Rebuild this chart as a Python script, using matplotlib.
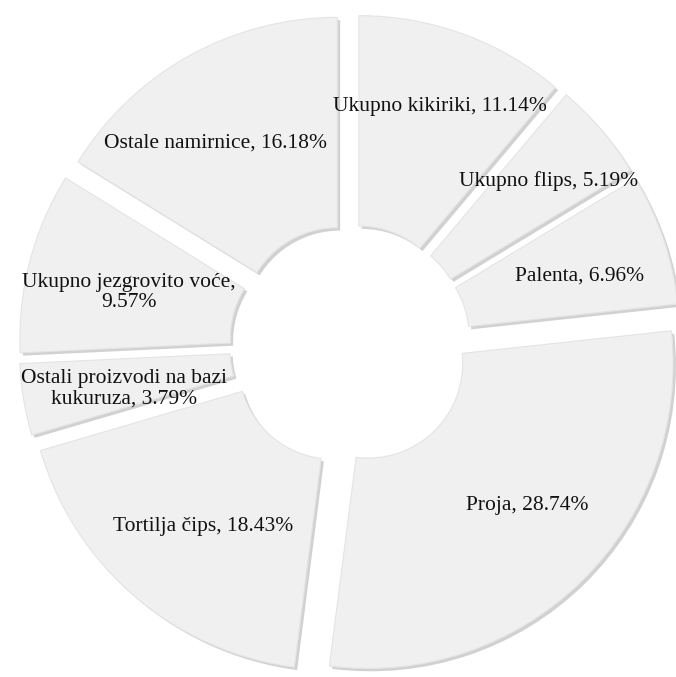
import numpy as np
import matplotlib
matplotlib.use('Agg')
import matplotlib.pyplot as plt
import matplotlib.patheffects as pe

labels = ['Ukupno kikiriki', 'Ukupno flips', 'Palenta', 'Proja', 'Tortilja čips',
          'Ostali proizvodi na bazi\nkukuruza', 'Ukupno jezgrovito voće,\n', 'Ostale namirnice']
values = [11.14, 5.19, 6.96, 28.74, 18.43, 3.79, 9.57, 16.18]

# label placement (distance from wedge centre, angle nudge in degrees)
lab_dist = [0.75, 0.76, 0.70, 0.70, 0.68, 0.67, 0.66, 0.71]
lab_turn = [-0.8, -1.1, -2.2, 3.9, 1.6, 1.5, 1.4, 5.1]

plt.rcParams['font.family'] = ['Liberation Serif', 'DejaVu Serif']

fig = plt.figure(figsize=(6.76, 6.77), dpi=100)
ax = fig.add_axes([0, 0, 1, 1])

expl = 0.085
wedges, _ = ax.pie(values, startangle=90, counterclock=False,
                   explode=[expl]*len(values), radius=1.0,
                   wedgeprops=dict(width=0.69, facecolor='#f0f0f0', edgecolor='#e4e4e4', linewidth=0.8))
for w in wedges:
    w.set_path_effects([pe.SimplePatchShadow(offset=(2, -2), shadow_rgbFace='#9a9a9a', alpha=0.45),
                        pe.Normal()])

for w, lab, v, d, t in zip(wedges, labels, values, lab_dist, lab_turn):
    th = np.deg2rad((w.theta1 + w.theta2) / 2 + t)
    cx, cy = w.center
    x = cx + d * np.cos(th)
    y = cy + d * np.sin(th)
    if lab.endswith(',\n'):
        txt = lab + f'{v:.2f}%'
    elif '\n' in lab:
        txt = lab + f', {v:.2f}%'
    else:
        txt = f'{lab}, {v:.2f}%'
    ax.text(x, y, txt, ha='center', va='center', fontsize=15.5, color='#111111',
            linespacing=1.1)

# center at pixel (350,345), radius 305 px
sc = 305.0
ax.set_aspect('auto')
ax.set_xlim(-350/sc, (676-350)/sc)
ax.set_ylim(-(677-345)/sc, 345/sc)
ax.axis('off')
fig.savefig('out.png', dpi=100)
